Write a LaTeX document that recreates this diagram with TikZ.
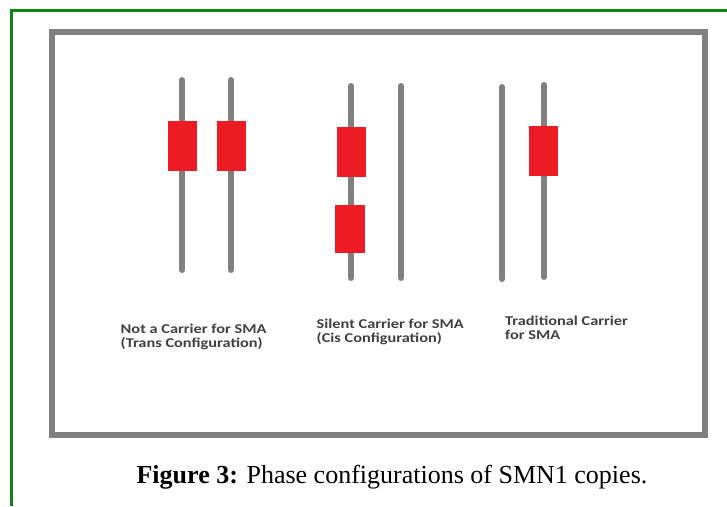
\documentclass[tikz,border=0pt]{standalone}
\usepackage{fontspec}
\setmainfont{Liberation Serif}
\newfontfamily\lblfont[FakeStretch=1.21]{Carlito}
\definecolor{framegreen}{RGB}{16,132,16}
\definecolor{framegray}{RGB}{128,128,128}
\definecolor{chromgray}{RGB}{128,128,128}
\definecolor{smnred}{RGB}{237,28,36}
\definecolor{lbltext}{RGB}{64,64,64}
\tikzset{
  chrom/.style={draw=chromgray, line width=6pt, line cap=round},
  copybox/.style={fill=smnred, draw=none, minimum width=29pt, minimum height=50pt, inner sep=0pt},
  lbl/.style={font=\lblfont\bfseries\fontsize{13.5}{14}\selectfont, text=lbltext, align=left, anchor=north west, inner sep=0pt},
}
\begin{document}
\begin{tikzpicture}[x=1pt, y=-1pt]
\useasboundingbox (0,0) rectangle (727,506);
% outer green page frame (continues past the right and bottom edges)
\draw[framegreen, line width=3pt] (11,506) -- (11,10) -- (727,10);
% gray panel frame
\draw[framegray, line width=6pt] (52,32) rectangle (705,434.5);

% chromosome endpoints
\coordinate (c1t) at (182,80);  \coordinate (c1b) at (182,270);
\coordinate (c2t) at (231,80);  \coordinate (c2b) at (231,270);
\coordinate (c3t) at (351,86);  \coordinate (c3b) at (351,278);
\coordinate (c4t) at (401,86);  \coordinate (c4b) at (401,278);
\coordinate (c5t) at (502,87);  \coordinate (c5b) at (502,279);
\coordinate (c6t) at (544,85);  \coordinate (c6b) at (544,277);

\draw[chrom] (c1t) -- (c1b);
\draw[chrom] (c2t) -- (c2b);
\draw[chrom] (c3t) -- (c3b);
\draw[chrom] (c4t) -- (c4b);
\draw[chrom] (c5t) -- (c5b);
\draw[chrom] (c6t) -- (c6b);

% SMN1 copies
\node[copybox] (s1) at (182.2,146) {};
\node[copybox] (s2) at (231.2,146) {};
\node[copybox] (s3) at (351.2,152) {};
\node[copybox, minimum height=48pt, minimum width=30pt] (s4) at (350,229) {};
\node[copybox] (s5) at (543.5,151) {};

% labels
\node[lbl] (l1) at (120.5,324) {Not a Carrier for SMA\\(Trans Configuration)};
\node[lbl] (l2) at (316.5,319) {Silent Carrier for SMA\\(Cis Configuration)};
\node[lbl] (l3) at (505,316) {Traditional Carrier\\for SMA};

% caption
\node[anchor=base, font=\fontsize{26}{30}\selectfont] (cap) at (392,483)
  {\textbf{Figure 3:} Phase configurations of SMN1 copies.};
\end{tikzpicture}
\end{document}
